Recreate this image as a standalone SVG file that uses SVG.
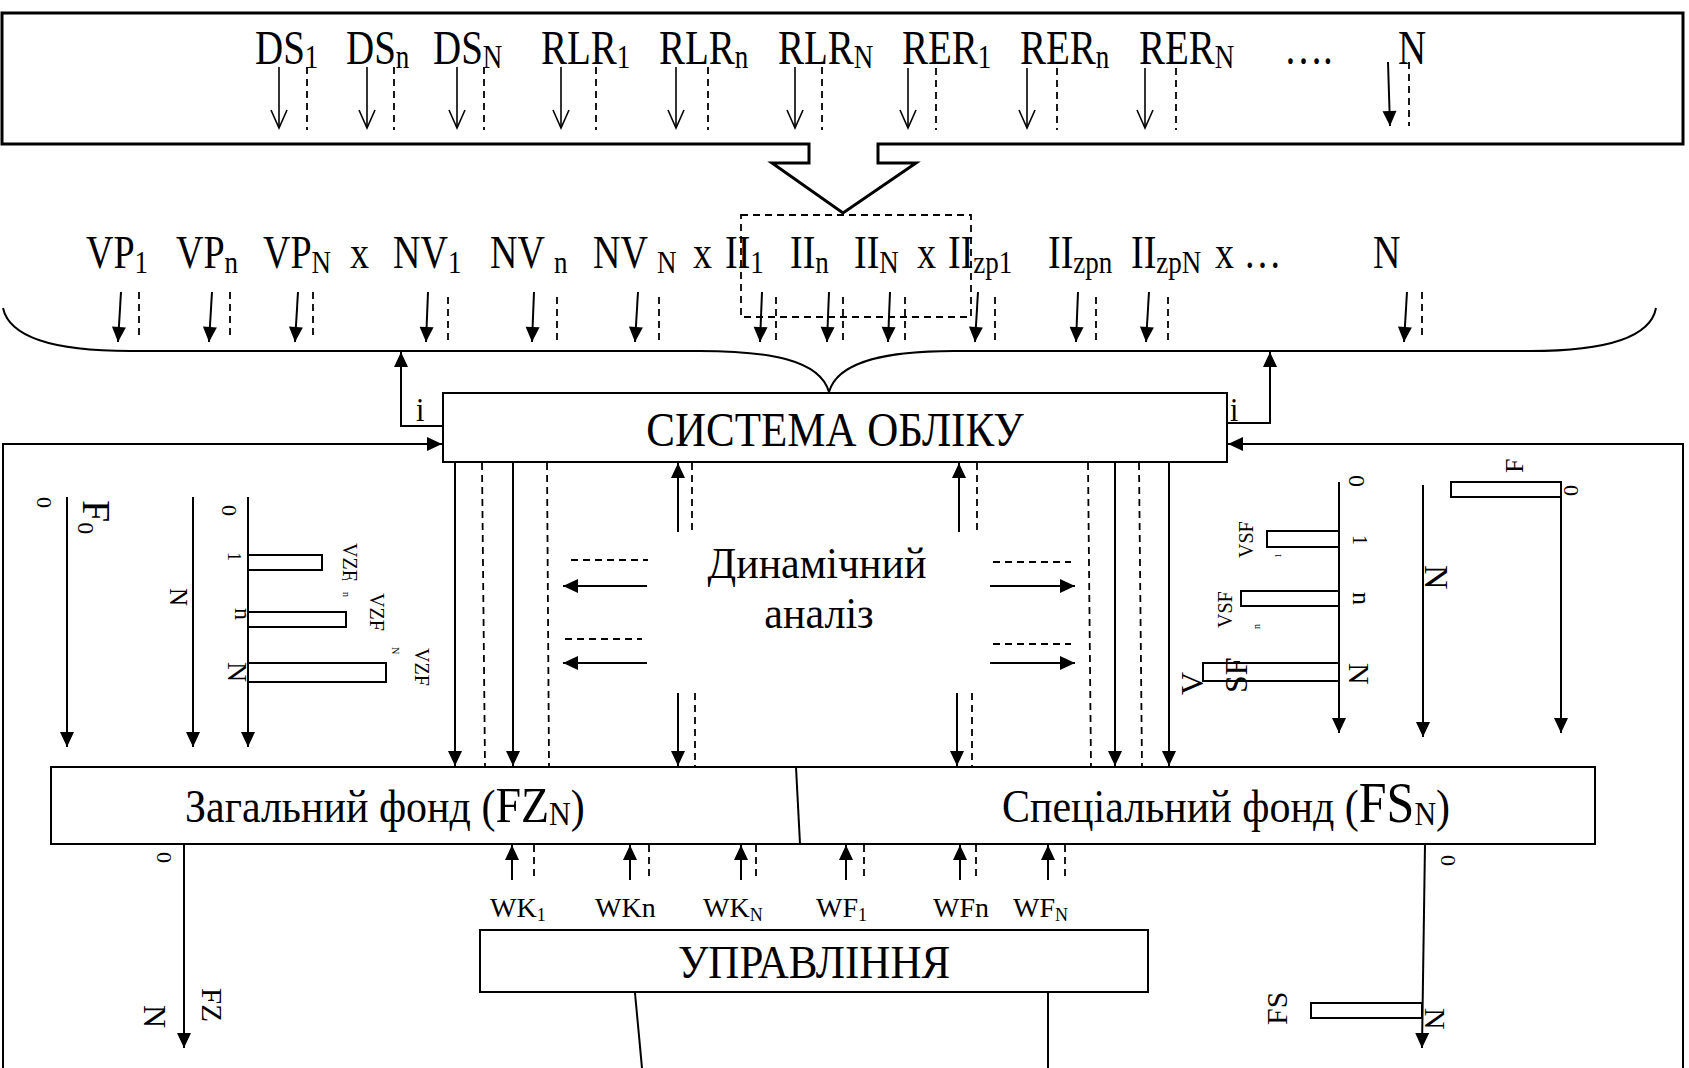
<svg xmlns="http://www.w3.org/2000/svg" width="1689" height="1068" viewBox="0 0 1689 1068">
<defs>
<style>
.t{font-family:"Liberation Serif","Times New Roman",serif;fill:#000}
.ln{stroke:#000;stroke-width:2;fill:none}
.lt{stroke:#000;stroke-width:1.6;fill:none}
.dsh{stroke:#000;stroke-width:1.8;fill:none;stroke-dasharray:7 5}
.af{marker-end:url(#af)}
.ao{marker-end:url(#ao)}
.box{fill:#fff;stroke:#000;stroke-width:2}
.bar{fill:#fff;stroke:#000;stroke-width:2}
</style>
<marker id="af" markerUnits="userSpaceOnUse" viewBox="-16 -8 17 16" markerWidth="17" markerHeight="16" refX="0" refY="0" orient="auto">
<path d="M-15,-7 L0,0 L-15,7 Z" fill="#000"/>
</marker>
<marker id="ao" markerUnits="userSpaceOnUse" viewBox="-20 -10 22 20" markerWidth="22" markerHeight="20" refX="0" refY="0" orient="auto">
<path d="M-18,-8 L0,0 L-18,8" fill="none" stroke="#000" stroke-width="1.6"/>
</marker>
</defs>
<rect width="1689" height="1068" fill="#fff"/>

<g id="node-sources">
<path d="M2,13 H1683 V144 H878 V163 H916 L843,213 L772,163 H809 V144 H2 Z" fill="none" stroke="#000" stroke-width="3"/>
<g class="t" font-size="39">
<text transform="translate(255,64) scale(1,1.25)">DS<tspan font-size="27" dy="3">1</tspan></text>
<text transform="translate(346,64) scale(1,1.25)">DS<tspan font-size="27" dy="3">n</tspan></text>
<text transform="translate(433,64) scale(1,1.25)">DS<tspan font-size="27" dy="3">N</tspan></text>
<text transform="translate(541,64) scale(1,1.25)">RLR<tspan font-size="27" dy="3">1</tspan></text>
<text transform="translate(659,64) scale(1,1.25)">RLR<tspan font-size="27" dy="3">n</tspan></text>
<text transform="translate(778,64) scale(1,1.25)">RLR<tspan font-size="27" dy="3">N</tspan></text>
<text transform="translate(902,64) scale(1,1.25)">RER<tspan font-size="27" dy="3">1</tspan></text>
<text transform="translate(1020,64) scale(1,1.25)">RER<tspan font-size="27" dy="3">n</tspan></text>
<text transform="translate(1139,64) scale(1,1.25)">RER<tspan font-size="27" dy="3">N</tspan></text>
<text transform="translate(1284,64) scale(1,1.25)">….</text>
<text transform="translate(1398,64) scale(1,1.25)">N</text>
</g>
</g>

<g id="node-indicators">
<rect x="741" y="215" width="230" height="102" class="dsh"/>
<path d="M3,308 C10,340 60,351 130,351 L699,351 C770,351 820,360 829,392 C838,360 890,351 954,351 L1530,351 C1600,351 1650,340 1656,308" class="ln"/>
<g class="t" font-size="38">
<text transform="translate(86,268) scale(1,1.2)">VP<tspan font-size="27" dy="4">1</tspan></text>
<text transform="translate(176,268) scale(1,1.2)">VP<tspan font-size="27" dy="4">n</tspan></text>
<text transform="translate(263,268) scale(1,1.2)">VP<tspan font-size="27" dy="4">N</tspan></text>
<text transform="translate(350,268) scale(1,1.2)">x</text>
<text transform="translate(393,268) scale(1,1.2)">NV<tspan font-size="27" dy="4">1</tspan></text>
<text transform="translate(490,268) scale(1,1.2)">NV<tspan font-size="27" dx="9" dy="4">n</tspan></text>
<text transform="translate(593,268) scale(1,1.2)">NV<tspan font-size="27" dx="9" dy="4">N</tspan></text>
<text transform="translate(693,268) scale(1,1.2)">x</text>
<text transform="translate(725,268) scale(1,1.2)">II<tspan font-size="27" dy="4">1</tspan></text>
<text transform="translate(790,268) scale(1,1.2)">II<tspan font-size="27" dy="4">n</tspan></text>
<text transform="translate(854,268) scale(1,1.2)">II<tspan font-size="27" dy="4">N</tspan></text>
<text transform="translate(917,268) scale(1,1.2)">x</text>
<text transform="translate(948,268) scale(1,1.2)">II<tspan font-size="27" dy="4">zp1</tspan></text>
<text transform="translate(1048,268) scale(1,1.2)">II<tspan font-size="27" dy="4">zpn</tspan></text>
<text transform="translate(1131,268) scale(1,1.2)">II<tspan font-size="27" dy="4">zpN</tspan></text>
<text transform="translate(1215,268) scale(1,1.2)">x …</text>
<text transform="translate(1373,268) scale(1,1.2)">N</text>
</g>
</g>

<g id="node-accounting">
<rect x="443" y="393" width="784" height="69" class="box"/>
<text class="t" font-size="43" text-anchor="middle" transform="translate(835,446) scale(1,1.12)">СИСТЕМА ОБЛІКУ</text>
<text class="t" font-size="30" transform="translate(416,421) scale(1,1.1)">i</text>
<text class="t" font-size="30" transform="translate(1230,421) scale(1,1.1)">i</text>
</g>

<g id="node-dynamics">
<text class="t" font-size="42" text-anchor="middle" transform="translate(817,578) scale(1,1.05)">Динамічний</text>
<text class="t" font-size="42" text-anchor="middle" transform="translate(819,628) scale(1,1.05)">аналіз</text>
</g>

<g id="node-funds">
<rect x="51" y="767" width="1544" height="77" class="box"/>
<line x1="796" y1="767" x2="800" y2="844" class="ln"/>
<text class="t" font-size="42" transform="translate(185,822) scale(1,1.12)">Загальний фонд (<tspan font-size="46">FZ</tspan><tspan font-size="30" dy="3">N</tspan><tspan dy="-3">)</tspan></text>
<text class="t" font-size="42" transform="translate(1002,822) scale(1,1.12)">Спеціальний фонд (<tspan font-size="50">FS</tspan><tspan font-size="30" dy="3">N</tspan><tspan dy="-3">)</tspan></text>
</g>

<g id="node-management">
<rect x="480" y="930" width="668" height="62" class="box"/>
<text class="t" font-size="43" text-anchor="middle" transform="translate(814,978) scale(1,1.1)">УПРАВЛІННЯ</text>
<g class="t" font-size="28">
<text x="490" y="917">WK<tspan font-size="18" dy="4">1</tspan></text>
<text x="595" y="917">WKn</text>
<text x="703" y="917">WK<tspan font-size="18" dy="4">N</tspan></text>
<text x="816" y="917">WF<tspan font-size="18" dy="4">1</tspan></text>
<text x="933" y="917">WFn</text>
<text x="1013" y="917">WF<tspan font-size="18" dy="4">N</tspan></text>
</g>
</g>

<g id="chart-general">
<rect x="248" y="555" width="74" height="15" class="bar"/>
<rect x="248" y="612" width="98" height="15" class="bar"/>
<rect x="248" y="663" width="138" height="19" class="bar"/>
<g class="t">
<text font-size="22" transform="translate(37,497) rotate(90)">0</text>
<text font-size="40" transform="translate(83,500) rotate(90)">F<tspan font-size="24" dy="5">0</tspan></text>
<text font-size="25" transform="translate(170,588) rotate(90)">N</text>
<text font-size="22" transform="translate(222,505) rotate(90)">0</text>
<text font-size="18" transform="translate(228,552) rotate(90)">1</text>
<text font-size="24" transform="translate(235,608) rotate(90)">n</text>
<text font-size="28" transform="translate(228,662) rotate(90)">N</text>
<text font-size="20" transform="translate(343,543) rotate(90)">VZF</text>
<text font-size="9" transform="translate(342,577) rotate(90)">1</text>
<text font-size="10" transform="translate(343,592) rotate(90)">n</text>
<text font-size="20" transform="translate(370,593) rotate(90)">VZF</text>
<text font-size="10" transform="translate(392,647) rotate(90)">N</text>
<text font-size="20" transform="translate(415,648) rotate(90)">VZF</text>
<text font-size="22" transform="translate(157,852) rotate(90)">0</text>
<text font-size="32" transform="translate(144,1005) rotate(90)">N</text>
<text font-size="29" transform="translate(202,988) rotate(90)">FZ</text>
</g>
</g>

<g id="chart-special">
<rect x="1267" y="531" width="72" height="16" class="bar"/>
<rect x="1241" y="591" width="98" height="15" class="bar"/>
<rect x="1203" y="663" width="136" height="18" class="bar"/>
<rect x="1451" y="482" width="110" height="15" class="bar"/>
<rect x="1311" y="1003" width="111" height="15" class="bar"/>
<g class="t">
<text font-size="24" transform="translate(1349,475) rotate(90)">0</text>
<text font-size="20" transform="translate(1353,535) rotate(90)">1</text>
<text font-size="26" transform="translate(1353,592) rotate(90)">n</text>
<text font-size="30" transform="translate(1349,663) rotate(90)">N</text>
<text font-size="34" transform="translate(1425,565) rotate(90)">N</text>
<text font-size="22" transform="translate(1564,485) rotate(90)">0</text>
<text font-size="26" transform="translate(1523,473) rotate(-90)">F</text>
<text font-size="20" transform="translate(1253,558) rotate(-90)">VSF</text>
<text font-size="9" transform="translate(1281,558) rotate(-90)">1</text>
<text font-size="20" transform="translate(1232,628) rotate(-90)">VSF</text>
<text font-size="10" transform="translate(1260,629) rotate(-90)">n</text>
<text font-size="32" transform="translate(1203,695) rotate(-90)">V</text>
<text font-size="32" transform="translate(1247,693) rotate(-90)">SF</text>
<text font-size="22" transform="translate(1441,855) rotate(90)">0</text>
<text font-size="30" transform="translate(1425,1008) rotate(90)">N</text>
<text font-size="30" transform="translate(1287,1025) rotate(-90)">FS</text>
</g>
</g>

<g id="connectors">
<line class="lt ao" x1="279" y1="67" x2="279" y2="128"/><line class="dsh" x1="307" y1="67" x2="307" y2="130"/>
<line class="lt ao" x1="367" y1="67" x2="367" y2="128"/><line class="dsh" x1="394" y1="67" x2="394" y2="130"/>
<line class="lt ao" x1="457" y1="67" x2="457" y2="128"/><line class="dsh" x1="484" y1="67" x2="484" y2="130"/>
<line class="lt ao" x1="561" y1="67" x2="561" y2="128"/><line class="dsh" x1="596" y1="67" x2="596" y2="130"/>
<line class="lt ao" x1="676" y1="67" x2="676" y2="128"/><line class="dsh" x1="708" y1="67" x2="708" y2="130"/>
<line class="lt ao" x1="795" y1="67" x2="795" y2="128"/><line class="dsh" x1="822" y1="67" x2="822" y2="130"/>
<line class="lt ao" x1="908" y1="68" x2="908" y2="128"/><line class="dsh" x1="936" y1="68" x2="936" y2="130"/>
<line class="lt ao" x1="1027" y1="68" x2="1027" y2="128"/><line class="dsh" x1="1057" y1="68" x2="1057" y2="130"/>
<line class="lt ao" x1="1145" y1="68" x2="1145" y2="128"/><line class="dsh" x1="1176" y1="68" x2="1176" y2="130"/>
<line class="ln af" x1="1388" y1="62" x2="1390" y2="126"/><line class="dsh" x1="1409" y1="62" x2="1409" y2="126"/>
<line class="ln af" x1="121" y1="292" x2="118" y2="342"/><line class="dsh" x1="139" y1="292" x2="139" y2="340"/>
<line class="ln af" x1="212" y1="292" x2="209" y2="342"/><line class="dsh" x1="230" y1="292" x2="230" y2="340"/>
<line class="ln af" x1="298" y1="292" x2="295" y2="342"/><line class="dsh" x1="313" y1="292" x2="313" y2="340"/>
<line class="ln af" x1="428" y1="292" x2="426" y2="342"/><line class="dsh" x1="448" y1="297" x2="448" y2="343"/>
<line class="ln af" x1="534" y1="292" x2="532" y2="342"/><line class="dsh" x1="557" y1="297" x2="557" y2="343"/>
<line class="ln af" x1="638" y1="292" x2="635" y2="342"/><line class="dsh" x1="659" y1="297" x2="659" y2="343"/>
<line class="ln af" x1="762" y1="292" x2="760" y2="342"/><line class="dsh" x1="776" y1="297" x2="776" y2="343"/>
<line class="ln af" x1="829" y1="292" x2="827" y2="342"/><line class="dsh" x1="843" y1="297" x2="843" y2="343"/>
<line class="ln af" x1="890" y1="292" x2="888" y2="342"/><line class="dsh" x1="905" y1="297" x2="905" y2="343"/>
<line class="ln af" x1="978" y1="292" x2="975" y2="342"/><line class="dsh" x1="995" y1="297" x2="995" y2="343"/>
<line class="ln af" x1="1078" y1="292" x2="1076" y2="342"/><line class="dsh" x1="1096" y1="297" x2="1096" y2="343"/>
<line class="ln af" x1="1149" y1="292" x2="1146" y2="342"/><line class="dsh" x1="1168" y1="297" x2="1168" y2="343"/>
<line class="ln af" x1="1407" y1="292" x2="1404" y2="342"/><line class="dsh" x1="1422" y1="292" x2="1422" y2="340"/>
<path class="ln af" d="M443,426 H401 V352"/>
<path class="ln af" d="M1227,423 H1270 V352"/>
<path class="ln af" d="M3,1068 V444 H442"/>
<path class="ln af" d="M1683,1068 V444 H1228"/>
<line class="ln af" x1="455" y1="462" x2="455" y2="766"/>
<line class="dsh" x1="482" y1="463" x2="485" y2="767"/>
<line class="ln af" x1="513" y1="462" x2="513" y2="766"/>
<line class="dsh" x1="547" y1="463" x2="549" y2="767"/>
<line class="dsh" x1="1088" y1="463" x2="1091" y2="767"/>
<line class="ln af" x1="1115" y1="462" x2="1115" y2="766"/>
<line class="dsh" x1="1139" y1="463" x2="1142" y2="767"/>
<line class="ln af" x1="1169" y1="462" x2="1169" y2="766"/>
<line class="ln af" x1="678" y1="532" x2="678" y2="463"/><line class="dsh" x1="692" y1="463" x2="692" y2="533"/>
<line class="ln af" x1="959" y1="532" x2="959" y2="463"/><line class="dsh" x1="977" y1="463" x2="977" y2="533"/>
<line class="ln af" x1="678" y1="693" x2="678" y2="766"/><line class="dsh" x1="695" y1="693" x2="695" y2="767"/>
<line class="ln af" x1="957" y1="693" x2="957" y2="766"/><line class="dsh" x1="972" y1="693" x2="972" y2="767"/>
<line class="dsh" x1="571" y1="560" x2="648" y2="560"/>
<line class="ln af" x1="647" y1="586" x2="563" y2="586"/>
<line class="dsh" x1="565" y1="639" x2="642" y2="639"/>
<line class="ln af" x1="647" y1="663" x2="563" y2="663"/>
<line class="dsh" x1="993" y1="562" x2="1071" y2="562"/>
<line class="ln af" x1="990" y1="586" x2="1075" y2="586"/>
<line class="dsh" x1="993" y1="644" x2="1071" y2="644"/>
<line class="ln af" x1="990" y1="663" x2="1075" y2="663"/>
<line class="ln af" x1="512" y1="880" x2="512" y2="845"/><line class="dsh" x1="534" y1="845" x2="534" y2="880"/>
<line class="ln af" x1="630" y1="880" x2="630" y2="845"/><line class="dsh" x1="649" y1="845" x2="649" y2="880"/>
<line class="ln af" x1="741" y1="880" x2="741" y2="845"/><line class="dsh" x1="756" y1="845" x2="756" y2="880"/>
<line class="ln af" x1="846" y1="880" x2="846" y2="845"/><line class="dsh" x1="864" y1="845" x2="864" y2="880"/>
<line class="ln af" x1="960" y1="880" x2="960" y2="845"/><line class="dsh" x1="976" y1="845" x2="976" y2="880"/>
<line class="ln af" x1="1048" y1="880" x2="1048" y2="845"/><line class="dsh" x1="1065" y1="845" x2="1065" y2="880"/>
<line class="ln" x1="635" y1="993" x2="642" y2="1068"/>
<line class="ln" x1="1048" y1="993" x2="1048" y2="1068"/>
<line class="ln af" x1="67" y1="497" x2="67" y2="747"/>
<line class="ln af" x1="193" y1="497" x2="193" y2="747"/>
<line class="ln af" x1="248" y1="497" x2="248" y2="747"/>
<line class="ln af" x1="1339" y1="482" x2="1339" y2="733"/>
<line class="ln af" x1="1423" y1="485" x2="1423" y2="737"/>
<line class="ln af" x1="1561" y1="482" x2="1561" y2="733"/>
<line class="ln af" x1="184" y1="844" x2="184" y2="1048"/>
<line class="ln af" x1="1425" y1="844" x2="1422" y2="1048"/>
</g>
</svg>
